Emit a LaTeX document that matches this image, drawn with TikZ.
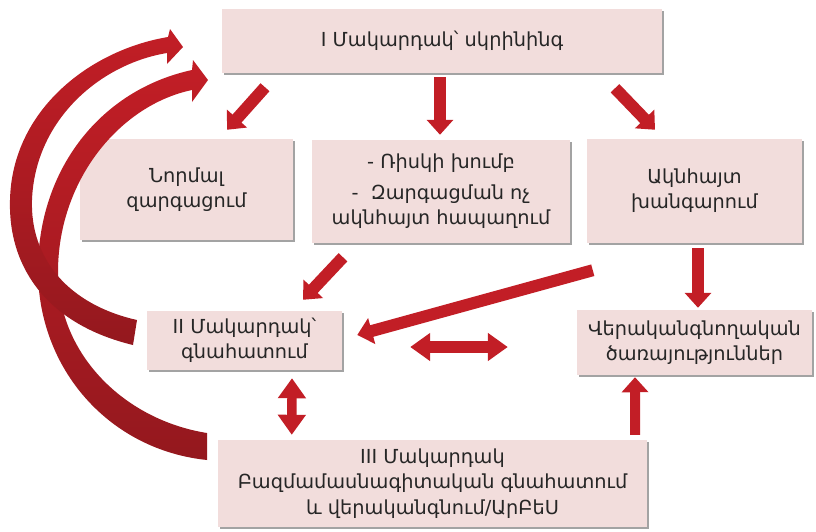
\documentclass[tikz,border=0pt]{standalone}
\usepackage{fontspec}
\setmainfont{DejaVu Sans}
\usetikzlibrary{arrows.meta,calc,shadows}
\definecolor{boxpink}{RGB}{242,221,220}
\definecolor{arrred}{RGB}{194,30,38}
\definecolor{arrdark}{RGB}{148,24,30}

\begin{document}
\begin{tikzpicture}[x=0.3mm,y=-0.3mm,
  box/.style={rectangle,fill=boxpink,inner sep=0pt,align=center,text=black!85,
              font=\fontsize{16.5}{21.5}\selectfont,
              drop shadow={shadow xshift=2pt,shadow yshift=-2pt,fill=black!45,opacity=0.8}},
  blk/.style={draw=arrred,line width=3.6mm,-{Triangle[width=7.8mm,length=4.5mm]}},
  dblk/.style={draw=arrred,line width=3.6mm,
               {Triangle[width=8.1mm,length=6mm]}-{Triangle[width=8.1mm,length=6mm]}}
]
\useasboundingbox (0,0) rectangle (816,531);

\node[box,minimum width=132mm,minimum height=19.2mm]  (lvlone)   at (442,41)      {I Մակարդակ՝ սկրինինգ};
\node[box,minimum width=63.9mm,minimum height=30.3mm] (normal)   at (186.5,189.5) {Նորմալ\\զարգացում};
\node[box,minimum width=77.4mm,minimum height=30.9mm] (risk)     at (441,191.5)   {- Ռիսկի խումբ\\[5pt]-\ \ Զարգացման ոչ\\ակնհայտ հապաղում};
\node[box,minimum width=64.5mm,minimum height=31.2mm] (obvious)  at (694.5,191)   {Ակնհայտ\\խանգարում};
\node[box,minimum width=58.5mm,minimum height=17.7mm] (lvltwo)   at (244.5,340.5) {II Մակարդակ՝\\գնահատում};
\node[box,minimum width=70.5mm,minimum height=19.5mm] (rehab)    at (694.5,342.5) {Վերականգնողական\\ծառայություններ};
\node[box,minimum width=128.7mm,minimum height=26.1mm] (lvlthree) at (432.5,483.5) {III Մակարդակ\\Բազմամասնագիտական գնահատում\\և վերականգնում/ԱրԲեՍ};

% curved return arrows
\shade[top color=arrred,bottom color=arrdark]
  (207,433) -- (207,460) .. controls (110,450) and (38,370) .. (38,270)
  .. controls (38,170) and (100,90) .. (192,70) -- (193,60) -- (208,80) -- (192,102) -- (192,90)
  .. controls (120,105) and (58,180) .. (58,272) .. controls (58,355) and (125,420) .. (207,433) -- cycle;
\shade[top color=arrred,bottom color=arrdark]
  (137,320) -- (133,345) .. controls (50,325) and (8,270) .. (10,200)
  .. controls (12,110) and (90,50) .. (168,37) -- (170,29) -- (183,47) -- (167,64) -- (167,53)
  .. controls (100,64) and (35,120) .. (32,200) .. controls (30,260) and (70,305) .. (137,320) -- cycle;

\draw[blk] ($(lvlone.south)+(-177,14)$) -- ($(normal.north)+(40.5,-9)$);
\draw[blk] ($(lvlone.south)+(-2,4)$) -- ($(risk.north)+(-1,-5)$);
\draw[blk] ($(lvlone.south)+(173,15)$) -- ($(obvious.north)+(-39.5,-9)$);
\draw[blk] ($(risk.south)+(-98,14)$) -- ($(lvltwo.north)+(58.5,-11)$);
\draw[blk] ($(obvious.south west)+(6,27)$) -- ($(lvltwo.east)+(15,-5.5)$);
\draw[blk] ($(obvious.south)+(3.5,5)$) -- ($(rehab.north)+(3.5,-2)$);
\draw[dblk] ($(lvltwo.east)+(68,6.5)$) -- ($(rehab.west)+(-69,4.5)$);
\draw[dblk,line width=2.8mm] ($(lvltwo.south)+(47.5,8)$) -- ($(lvlthree.north west)+(74,-5)$);
\draw[blk,line width=3mm] ($(lvlthree.north east)+(-12,-5)$) -- ($(rehab.south)+(-59.5,2)$);
\end{tikzpicture}
\end{document}
